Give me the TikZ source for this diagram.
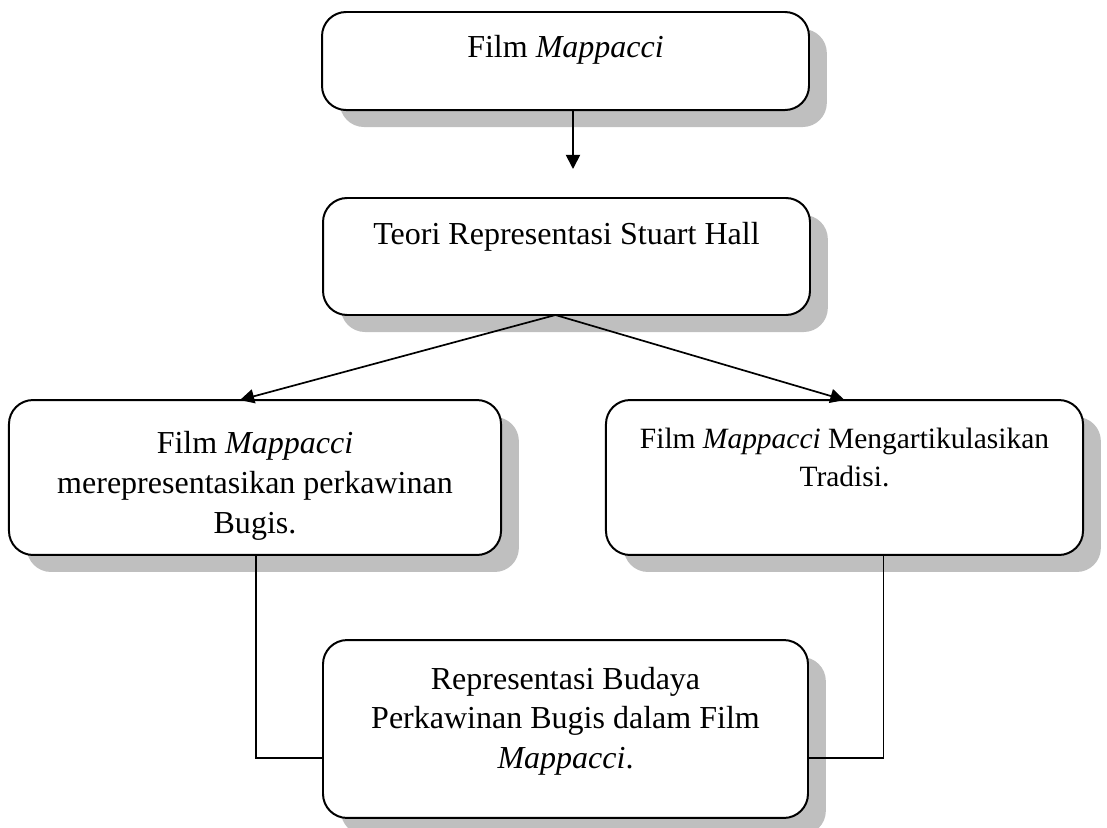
\documentclass[tikz,border=0pt]{standalone}
\usepackage{fontspec}
\setmainfont{Liberation Serif}
\usetikzlibrary{arrows.meta}
\usetikzlibrary{shadows}
\tikzset{every picture/.style={semithick}}
\tikzset{box/.style={draw, line width=0.7pt, rounded corners=8.5pt, fill=white, outer sep=0pt,
    drop shadow={shadow xshift=6.3pt, shadow yshift=-6pt, fill=black!25, opacity=1}}}
\tikzset{txt/.style={align=center, inner sep=0pt, font=\fontsize{11.3}{14}\selectfont}}
\tikzset{link/.style={line width=0.5pt}}

\begin{document}
\begin{tikzpicture}[x=0.353pt, y=-0.353pt, >={Triangle[length=5pt,width=5pt]}]
            \useasboundingbox (0,0) rectangle (1107,827);
            % boxes
            \node[box, minimum width=171.9pt, minimum height=34.6pt] (b1) at (565.5,61) {};
            \node[box, minimum width=171.9pt, minimum height=41.3pt] (b2) at (566.5,256.5) {};
            \node[box, minimum width=173.7pt, minimum height=54.7pt] (b3l) at (255,477.5) {};
            \node[box, minimum width=168.4pt, minimum height=54.7pt] (b3r) at (844.5,477.5) {};
            \node[box, minimum width=171.2pt, minimum height=62.8pt] (b4) at (565.5,729) {};
            % texts
            \node[txt] (t1) at ([yshift=-13.2pt]b1.north) {Film \textit{Mappacci}};
            \node[txt] (t2) at ([yshift=-13.6pt]b2.north) {Teori Representasi Stuart Hall};
            \node[txt] (t3l) at ([yshift=-30.3pt]b3l.north) {Film \textit{Mappacci}\\ merepresentasikan perkawinan\\ Bugis.};
            \node[txt, font=\fontsize{10.4}{13.4}\selectfont] (t3r) at ([yshift=-20.2pt]b3r.north) {Film \textit{Mappacci} Mengartikulasikan\\ Tradisi.};
            \node[txt] (t4) at ([yshift=-28.6pt]b4.north) {Representasi Budaya\\ Perkawinan Bugis dalam Film\\ \textit{Mappacci}.};
            % arrows
            \coordinate (c1) at (573,169);
            \draw[->, line width=0.6pt] (b1.south -| c1) -- (c1);
            \draw[->, line width=0.6pt] ([xshift=-3.9pt]b2.south) -- ([xshift=-5.3pt]b3l.north);
            \draw[->, line width=0.6pt] ([xshift=-3.9pt]b2.south) -- (b3r.north);
            % links to the last box
            \draw[link] ([xshift=0.4pt]b3l.south) |- ([yshift=-10.2pt]b4.west);
            \draw[link] ([xshift=13.7pt]b3r.south) |- ([yshift=-10.2pt]b4.east);
\end{tikzpicture}
\end{document}
